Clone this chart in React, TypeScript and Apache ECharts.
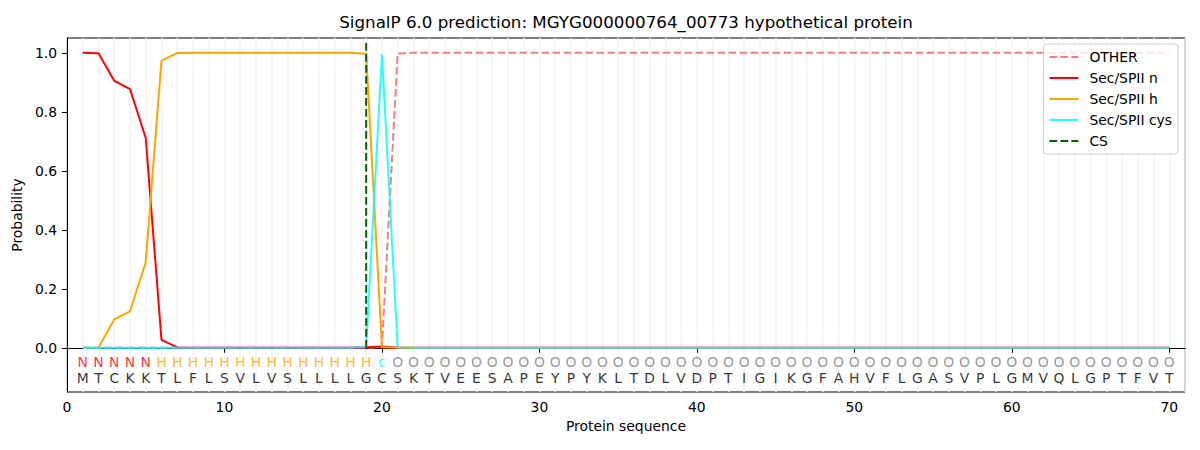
import React, { useEffect, useRef } from "react";
import * as echarts from "echarts";

const titleText = "SignalP 6.0 prediction: MGYG000000764_00773 hypothetical protein";
const sequence = "MTCKKTLFLSVLVSLLLLGCSKTVEESAPEYPYKLTDLVDPTIGIKGFAHVFLGASVPLGMVQLGPTFVT".split("");
const regionLabels = "NNNNNHHHHHHHHHHHHHHcOOOOOOOOOOOOOOOOOOOOOOOOOOOOOOOOOOOOOOOOOOOOOOOOOO".split("");

const otherProb = [
  0, 0, 0, 0, 0, 0, 0, 0, 0, 0,
  0, 0, 0, 0, 0, 0, 0, 0, 0, 0.002,
  0.997, 1, 1, 1, 1, 1, 1, 1, 1, 1,
  1, 1, 1, 1, 1, 1, 1, 1, 1, 1,
  1, 1, 1, 1, 1, 1, 1, 1, 1, 1,
  1, 1, 1, 1, 1, 1, 1, 1, 1, 1,
  1, 1, 1, 1, 1, 1, 1, 1, 1, 1,
];
const nProb = [
  1.0, 0.998, 0.905, 0.877, 0.711, 0.027, 0.001, 0, 0, 0,
  0, 0, 0, 0, 0, 0, 0, 0, 0.002, 0.004,
  0, 0, 0, 0, 0, 0, 0, 0, 0, 0,
  0, 0, 0, 0, 0, 0, 0, 0, 0, 0,
  0, 0, 0, 0, 0, 0, 0, 0, 0, 0,
  0, 0, 0, 0, 0, 0, 0, 0, 0, 0,
  0, 0, 0, 0, 0, 0, 0, 0, 0, 0,
];
const hProb = [
  0, 0.001, 0.096, 0.123, 0.29, 0.973, 0.999, 1, 1, 1,
  1, 1, 1, 1, 1, 1, 1, 1, 0.997, 0.002,
  0.001, 0, 0, 0, 0, 0, 0, 0, 0, 0,
  0, 0, 0, 0, 0, 0, 0, 0, 0, 0,
  0, 0, 0, 0, 0, 0, 0, 0, 0, 0,
  0, 0, 0, 0, 0, 0, 0, 0, 0, 0,
  0, 0, 0, 0, 0, 0, 0, 0, 0, 0,
];
const cysProb = [
  0, 0, 0, 0, 0, 0, 0, 0, 0, 0,
  0, 0, 0, 0, 0, 0, 0, 0, 0.003, 0.995,
  0.001, 0, 0, 0, 0, 0, 0, 0, 0, 0,
  0, 0, 0, 0, 0, 0, 0, 0, 0, 0,
  0, 0, 0, 0, 0, 0, 0, 0, 0, 0,
  0, 0, 0, 0, 0, 0, 0, 0, 0, 0,
  0, 0, 0, 0, 0, 0, 0, 0, 0, 0,
];
const csPosition = 19;
const xTicks = [0, 10, 20, 30, 40, 50, 60, 70];
const yTicks = [0, 0.2, 0.4, 0.6, 0.8, 1.0];

const labelColors: Record<string, string> = {
  N: "#ff0000",
  H: "#ffa500",
  c: "#00ffff",
  O: "#808080",
};

const FONT = "DejaVu Sans";
const LABEL_ROW_Y = -0.047;
const SEQ_ROW_Y = -0.101;

export default function App() {
  const ref = useRef<HTMLDivElement>(null);
  useEffect(() => {
    if (!ref.current) return;
    const chart = echarts.init(ref.current, null, { renderer: "svg" });
    const toXY = (arr: number[]) => arr.map((v, i) => [i + 1, v]);
    const lineBase = {
      type: "line",
      showSymbol: false,
      symbol: "none",
      xAxisIndex: 0,
      yAxisIndex: 0,
      silent: true,
    };
    const option: any = {
      animation: false,
      backgroundColor: "#ffffff",
      textStyle: { fontFamily: FONT },
      title: {
        text: titleText,
        left: 626,
        textAlign: "center",
        top: 13,
        padding: 0,
        textStyle: { fontFamily: FONT, fontSize: 16.7, fontWeight: "normal", color: "#000" },
      },
      legend: {
        orient: "vertical",
        right: 22,
        top: 44,
        padding: [6, 6, 6, 5],
        itemGap: 7,
        itemWidth: 29,
        itemHeight: 14,
        backgroundColor: "rgba(255,255,255,0.8)",
        borderColor: "#cccccc",
        borderWidth: 1,
        borderRadius: 3,
        itemStyle: { opacity: 0 },
        textStyle: { fontFamily: FONT, fontSize: 13.9, color: "#000", padding: [0, 0, 0, 6] },
        data: ["OTHER", "Sec/SPII n", "Sec/SPII h", "Sec/SPII cys", "CS"],
      },
      grid: {
        left: 67,
        top: 38,
        width: 1118,
        height: 354,
        show: true,
        borderColor: "#000",
        borderWidth: 1,
        backgroundColor: "transparent",
      },
      xAxis: [
        {
          type: "value",
          min: 0,
          max: 71,
          position: "bottom",
          name: "Protein sequence",
          nameLocation: "middle",
          nameGap: 27,
          nameTextStyle: { fontFamily: FONT, fontSize: 13.9, color: "#000" },
          axisLine: { show: true, lineStyle: { color: "#000", width: 1 } },
          axisTick: { show: true, customValues: xTicks, length: 5, lineStyle: { color: "#000" } },
          axisLabel: {
            customValues: xTicks,
            margin: 8,
            fontFamily: FONT,
            fontSize: 13.9,
            color: "#000",
          },
          splitLine: { show: false },
        },
        {
          type: "value",
          min: 0,
          max: 71,
          interval: 1,
          position: "bottom",
          axisLine: { show: false },
          axisTick: { show: false },
          axisLabel: { show: false },
          splitLine: { show: true, lineStyle: { color: "#f3f3f3", width: 1.5 } },
        },
      ],
      yAxis: {
        type: "value",
        min: -0.15,
        max: 1.05,
        name: "Probability",
        nameLocation: "middle",
        nameGap: 34,
        nameTextStyle: { fontFamily: FONT, fontSize: 13.9, color: "#000" },
        axisLine: { show: true, lineStyle: { color: "#000", width: 1 } },
        axisTick: { show: true, customValues: yTicks, length: 5, lineStyle: { color: "#000" } },
        axisLabel: {
          customValues: yTicks,
          margin: 10,
          fontFamily: FONT,
          fontSize: 13.9,
          color: "#000",
          formatter: (v: number) => v.toFixed(1),
        },
        splitLine: { show: false },
      },
      series: [
        {
          ...lineBase,
          name: "OTHER",
          data: toXY(otherProb),
          lineStyle: { color: "#f08080", width: 2, type: [7.7, 3.3] },
          itemStyle: { color: "#f08080" },
        },
        {
          ...lineBase,
          name: "Sec/SPII n",
          data: toXY(nProb),
          lineStyle: { color: "#ff0000", width: 2 },
          itemStyle: { color: "#ff0000" },
        },
        {
          ...lineBase,
          name: "Sec/SPII h",
          data: toXY(hProb),
          lineStyle: { color: "#ffa500", width: 2 },
          itemStyle: { color: "#ffa500" },
        },
        {
          ...lineBase,
          name: "Sec/SPII cys",
          data: toXY(cysProb),
          lineStyle: { color: "#00ffff", width: 2, opacity: 0.85 },
          itemStyle: { color: "#00ffff" },
        },
        {
          ...lineBase,
          name: "CS",
          data: [
            [csPosition, 0],
            [csPosition, 1.04],
          ],
          lineStyle: { color: "#006400", width: 2, type: [7.7, 3.3] },
          itemStyle: { color: "#006400" },
        },
        {
          type: "scatter",
          name: "labels",
          silent: true,
          symbolSize: 1,
          itemStyle: { color: "transparent" },
          data: regionLabels.map((l, i) => ({
            value: [i + 1, LABEL_ROW_Y],
            label: {
              show: true,
              position: "inside",
              formatter: l,
              color: labelColors[l],
              fontFamily: FONT,
              fontSize: 13.9,
            },
          })),
        },
        {
          type: "scatter",
          name: "sequence",
          silent: true,
          symbolSize: 1,
          itemStyle: { color: "transparent" },
          data: sequence.map((s, i) => ({
            value: [i + 1, SEQ_ROW_Y],
            label: {
              show: true,
              position: "inside",
              formatter: s,
              color: "#000",
              fontFamily: FONT,
              fontSize: 13.9,
            },
          })),
        },
      ],
    };
    chart.setOption(option);
    return () => chart.dispose();
  }, []);
  return (
    <div
      ref={ref}
      style={{ position: "absolute", left: 0, top: 0, width: 1200, height: 450 }}
    />
  );
}
